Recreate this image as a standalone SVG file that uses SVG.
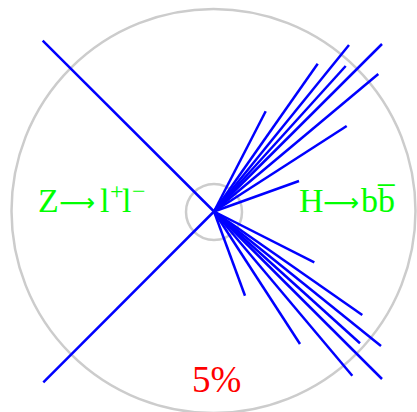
<svg xmlns="http://www.w3.org/2000/svg" width="417" height="412" viewBox="0 0 417 412">
<style>
.ring{fill:none;stroke:#cccccc;stroke-width:2.5}
.trk line{stroke:#0000ff;stroke-width:2.5;stroke-linecap:butt}
.lbl{font-family:"Liberation Serif","Times New Roman",serif;font-size:34px;fill:#00ff00}
.arr{font-family:"DejaVu Sans",sans-serif;font-size:25px;font-weight:normal}
.pct{font-family:"Liberation Serif","Times New Roman",serif;font-size:37px;fill:#ff0000}
</style>
<g id="detector">
<circle class="ring" cx="213.5" cy="211" r="202"/>
<circle class="ring" cx="214" cy="212" r="28"/>
</g>
<g id="tracks" class="trk">
<line x1="214" y1="211.5" x2="42.7" y2="40.7"/>
<line x1="214" y1="211.5" x2="43.3" y2="382.3"/>
<line x1="214" y1="211.5" x2="265.7" y2="111.3"/>
<line x1="214" y1="211.5" x2="317.7" y2="63.7"/>
<line x1="214" y1="211.5" x2="349" y2="45"/>
<line x1="214" y1="211.5" x2="345.7" y2="66"/>
<line x1="214" y1="211.5" x2="382" y2="44"/>
<line x1="214" y1="211.5" x2="378.3" y2="74"/>
<line x1="214" y1="211.5" x2="346.7" y2="126"/>
<line x1="214" y1="211.5" x2="299" y2="181"/>
<line x1="214" y1="211.5" x2="314.3" y2="262.3"/>
<line x1="214" y1="211.5" x2="245" y2="295.7"/>
<line x1="214" y1="211.5" x2="362.3" y2="315"/>
<line x1="214" y1="211.5" x2="381" y2="346"/>
<line x1="214" y1="211.5" x2="360" y2="343.3"/>
<line x1="214" y1="211.5" x2="300" y2="344"/>
<line x1="214" y1="211.5" x2="352.3" y2="375.7"/>
<line x1="214" y1="211.5" x2="382" y2="379"/>
</g>
<g id="label-z">
<text class="lbl" x="38" y="212">Z<tspan class="arr" x="59" y="211">⟶</tspan><tspan x="100" y="212">l</tspan><tspan x="110" y="199" font-size="24">+</tspan><tspan x="122" y="212">l</tspan><tspan x="132" y="199" font-size="24">−</tspan></text>
</g>
<g id="label-h">
<text class="lbl" x="299" y="212">H<tspan class="arr" x="323" y="211">⟶</tspan><tspan x="361" y="212">bb&#x0305;</tspan></text>
</g>
<g id="label-pct">
<text class="pct" x="192" y="392">5%</text>
</g>
</svg>
